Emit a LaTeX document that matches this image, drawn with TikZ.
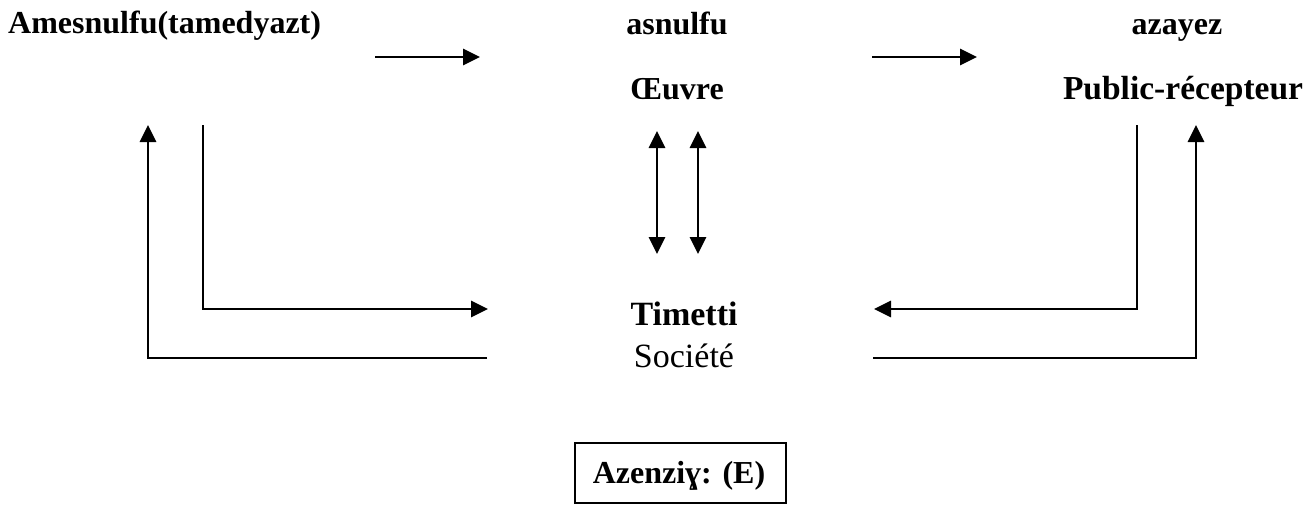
\documentclass[tikz,border=0pt]{standalone}
\usepackage{fontspec}
\setmainfont{Liberation Serif}
\usetikzlibrary{arrows.meta}
\begin{document}
\begin{tikzpicture}[x=1pt,y=-1pt,
  lbl/.style={inner sep=0pt,anchor=base,font=\bfseries\fontsize{32}{36}\selectfont},
  big/.style={inner sep=0pt,anchor=base,font=\fontsize{34}{38}\selectfont},
  link/.style={line width=2.8pt},
  tip/.style={link,-{Triangle[length=17pt,width=16pt]}},
  both/.style={link,{Triangle[length=17pt,width=16pt]}-{Triangle[length=17pt,width=16pt]}}]
  \useasboundingbox (0,0) rectangle (1309,507);

  % labels
  \node[lbl,anchor=base west] (auteur) at (8,33) {Amesnulfu(tamedyazt)};
  \node[lbl] (oeuvre1) at (677,34) {asnulfu};
  \node[lbl] (oeuvre2) at (677,99) {Œuvre};
  \node[lbl] (public1) at (1177,34) {azayez};
  \node[lbl,font=\bfseries\fontsize{33.5}{38}\selectfont] (public2) at (1183,99) {Public-récepteur};
  \node[big,font=\bfseries\fontsize{34}{38}\selectfont] (soc1) at (684,325) {Timetti};
  \node[big] (soc2) at (684,367) {Société};
  \node[draw,line width=2.2pt,minimum width=211pt,minimum height=60pt,inner sep=0pt]
    (legende) at (680.5,473) {};
  \node[lbl] (legtxt) at (679,483) {Azenziɣ: (E)};

  % connector end points
  \coordinate (a1s) at (375,57);  \coordinate (a1e) at (480,57);
  \coordinate (a2s) at (872,57);  \coordinate (a2e) at (977,57);
  \coordinate (lo1) at (148,125); \coordinate (lo2) at (148,358); \coordinate (lo3) at (487,358);
  \coordinate (li1) at (203,125); \coordinate (li2) at (203,309); \coordinate (li3) at (488,309);
  \coordinate (ri1) at (1137,125);\coordinate (ri2) at (1137,309);\coordinate (ri3) at (874,309);
  \coordinate (ro1) at (873,358); \coordinate (ro2) at (1196,358);\coordinate (ro3) at (1196,125);
  \coordinate (d1t) at (657,131); \coordinate (d1b) at (657,254);
  \coordinate (d2t) at (698,131); \coordinate (d2b) at (698,254);

  % horizontal arrows on top
  \draw[tip] (a1s) -- (a1e);
  \draw[tip] (a2s) -- (a2e);
  % double arrows between work and society
  \draw[both] (d1t) -- (d1b);
  \draw[both] (d2t) -- (d2b);
  % left loops
  \draw[tip] (lo3) -- (lo2) -- (lo1);
  \draw[tip] (li1) -- (li2) -- (li3);
  % right loops
  \draw[tip] (ri1) -- (ri2) -- (ri3);
  \draw[tip] (ro1) -- (ro2) -- (ro3);
\end{tikzpicture}
\end{document}
